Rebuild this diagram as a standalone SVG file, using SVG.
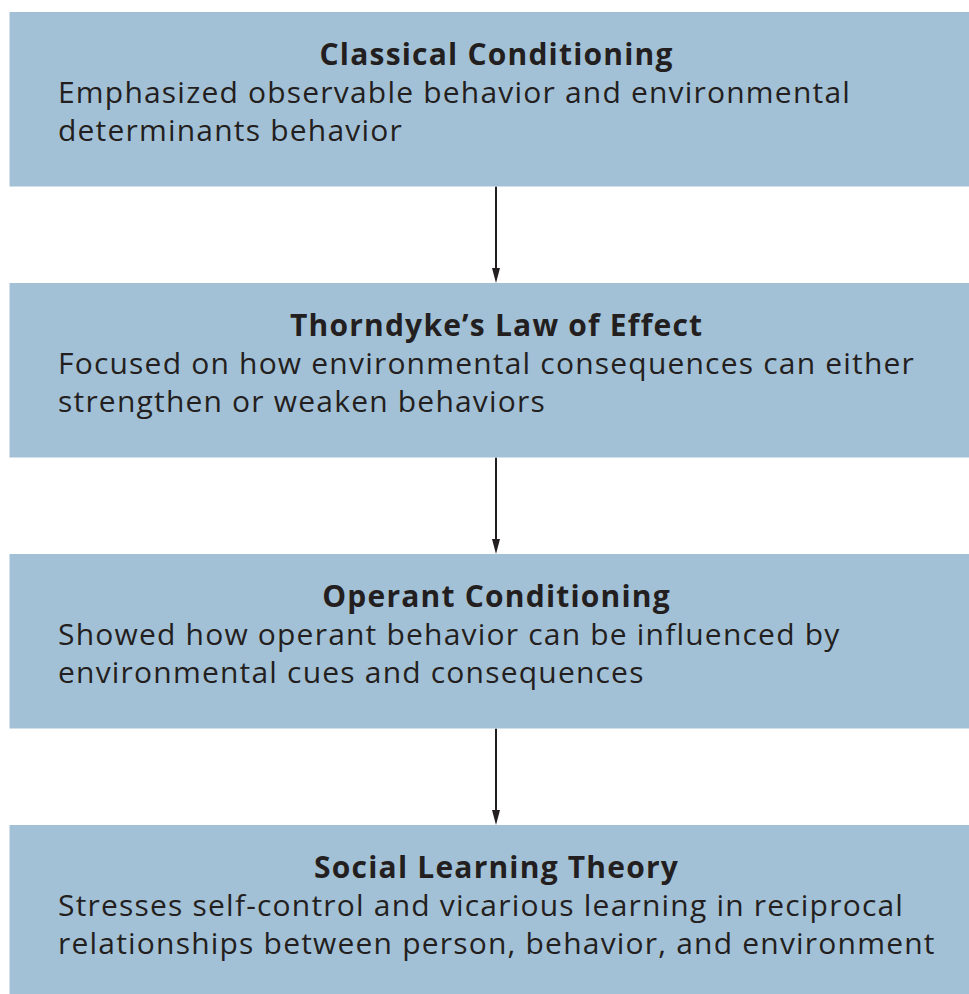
<svg xmlns="http://www.w3.org/2000/svg" width="969" height="994" viewBox="0 0 969 994">
<defs>
<style>
.box{fill:#a3c1d6}
.t{font-family:"Open Sans","Noto Sans",sans-serif;font-size:30px;fill:#231f20;letter-spacing:1.2px}
.h{font-weight:bold;text-anchor:middle}
.edge{stroke:#231f20;stroke-width:2;fill:none}
.head{fill:#231f20}
</style>
</defs>
<rect width="969" height="994" fill="#ffffff"/>
<g id="connectors">
<path class="edge" d="M496,186.5 V268"/>
<path class="head" d="M492,268 L500,268 L496,283 Z"/>
<path class="edge" d="M496,457.5 V539"/>
<path class="head" d="M492,539 L500,539 L496,554 Z"/>
<path class="edge" d="M496,728.5 V810"/>
<path class="head" d="M492,810 L500,810 L496,825 Z"/>
</g>
<g id="n1">
<rect class="box" x="9.5" y="12" width="959.5" height="174.5"/>
<text class="t h" x="496.6" y="64.7">Classical Conditioning</text>
<text class="t" x="58" y="102.7">Emphasized observable behavior and environmental</text>
<text class="t" x="58" y="140.7">determinants behavior</text>
</g>
<g id="n2">
<rect class="box" x="9.5" y="283" width="959.5" height="174.5"/>
<text class="t h" x="496.6" y="335.7">Thorndyke’s Law of Effect</text>
<text class="t" x="58" y="373.7">Focused on how environmental consequences can either</text>
<text class="t" x="58" y="411.7">strengthen or weaken behaviors</text>
</g>
<g id="n3">
<rect class="box" x="9.5" y="554" width="959.5" height="174.5"/>
<text class="t h" x="496.6" y="606.7">Operant Conditioning</text>
<text class="t" x="58" y="644.7">Showed how operant behavior can be influenced by</text>
<text class="t" x="58" y="682.7">environmental cues and consequences</text>
</g>
<g id="n4">
<rect class="box" x="9.5" y="825" width="959.5" height="169"/>
<text class="t h" x="496.6" y="877.7">Social Learning Theory</text>
<text class="t" x="58" y="915.7">Stresses self-control and vicarious learning in reciprocal</text>
<text class="t" x="58" y="953.7">relationships between person, behavior, and environment</text>
</g>
</svg>
